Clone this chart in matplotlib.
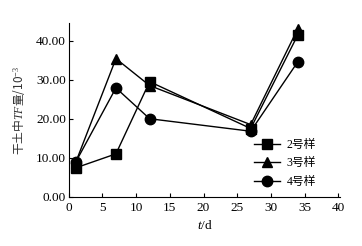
import matplotlib.pyplot as plt
import numpy as np

plt.rcParams['font.family'] = ['Liberation Serif', 'Noto Sans CJK SC']
plt.rcParams['mathtext.fontset'] = 'custom'
plt.rcParams['mathtext.it'] = 'Liberation Serif:italic'
plt.rcParams['mathtext.rm'] = 'Liberation Serif'

days = [1, 7, 12, 27, 34]
s2 = [7.4, 11.0, 29.5, 17.5, 41.5]
s3 = [8.7, 35.4, 28.5, 18.5, 43.1]
s4 = [8.8, 27.9, 20.0, 16.8, 34.6]
labels = ['2号样', '3号样', '4号样']

fig = plt.figure(figsize=(3.62, 2.46), dpi=100)
ax = fig.add_axes([0.19, 0.20, 0.75, 0.706])

ax.plot(days, s2, color='black', lw=1, marker='s', ms=7, label=labels[0])
ax.plot(days, s3, color='black', lw=1, marker='^', ms=7.5, label=labels[1])
ax.plot(days, s4, color='black', lw=1, marker='o', ms=7.5, label=labels[2])

ax.set_xlim(0, 40.3)
ax.set_ylim(0, 44.5)
ax.set_xticks(np.arange(0, 41, 5))
ax.set_yticks(np.arange(0, 41, 10))
ax.set_yticklabels([f'{v:.2f}' for v in np.arange(0, 41, 10)])
ax.tick_params(direction='in', length=3, labelsize=9.5, pad=2)
ax.tick_params(axis='x', pad=4)
for s in ['top', 'right']:
    ax.spines[s].set_visible(False)

ax.set_xlabel('$t$/d', fontsize=9.5, labelpad=3)
ax.set_ylabel('干土中$\\mathit{TF}$量/10$^{-3}$', fontsize=8.5, color='#333333',
              labelpad=6, family='Noto Sans CJK SC')

ax.legend(loc='lower right', bbox_to_anchor=(0.95, -0.01), frameon=False,
          fontsize=8.5, handlelength=2.2, labelspacing=0.55, handletextpad=0.6)

fig.savefig('out.png', dpi=100)
